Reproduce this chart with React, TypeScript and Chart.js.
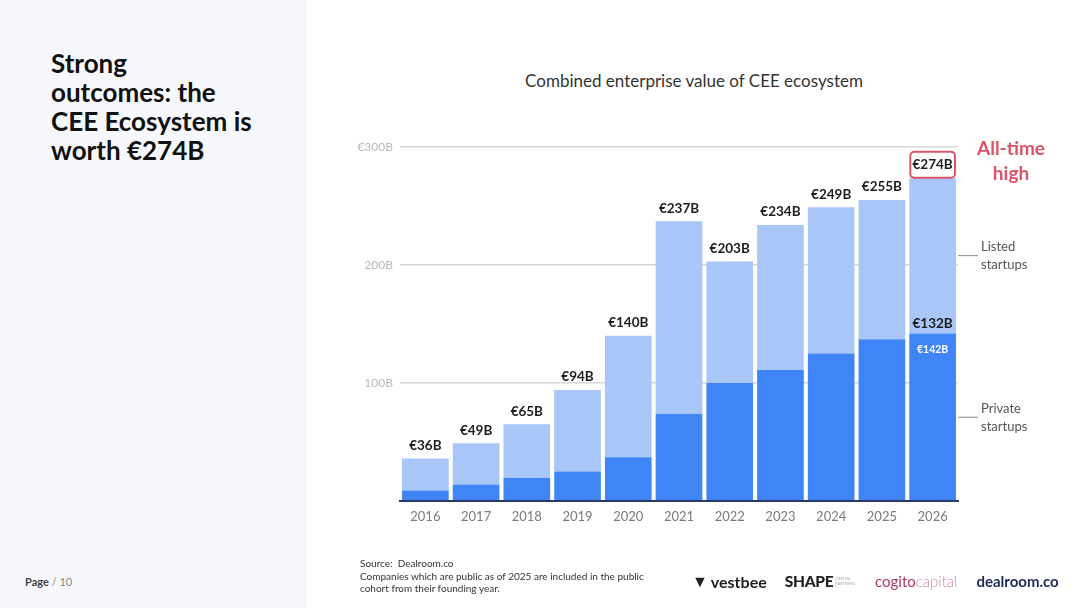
import React, { useEffect, useRef } from "react";
import { Chart, registerables } from "chart.js";

Chart.register(...registerables);

const years = ["2016", "2017", "2018", "2019", "2020", "2021", "2022", "2023", "2024", "2025", "2026"];
const totalValues = [36, 49, 65, 94, 140, 237, 203, 234, 249, 255, 274];
const privateValues = [9, 14, 19.5, 25, 37, 74, 100, 111, 125, 137, 142];
const listedValues = totalValues.map((t, i) => t - privateValues[i]);
const totalLabels = ["€36B", "€49B", "€65B", "€94B", "€140B", "€237B", "€203B", "€234B", "€249B", "€255B", "€274B"];
const privateTopLabel = "€132B";
const privateInnerLabel = "€142B";
const yTicks = [0, 100, 200, 300];
const yTickLabels = ["", "100B", "200B", "€300B"];

const FONT = "Lato, 'Noto Sans', sans-serif";
const DARK = "#3F85F6";
const LIGHT = "#A9C6F8";
const RED = "#DC5468";

export default function App() {
  const ref = useRef<HTMLCanvasElement | null>(null);

  useEffect(() => {
    const canvas = ref.current;
    if (!canvas) return;

    const labelPlugin = {
      id: "labels",
      afterDatasetsDraw(chart: any) {
        const ctx = chart.ctx;
        const metaListed = chart.getDatasetMeta(1);
        const metaPrivate = chart.getDatasetMeta(0);
        const last = years.length - 1;
        ctx.save();
        ctx.textAlign = "center";
        ctx.textBaseline = "middle";
        metaListed.data.forEach((bar: any, i: number) => {
          const top = bar.y;
          if (i === last) {
            const w = bar.width;
            ctx.strokeStyle = RED;
            ctx.lineWidth = 2;
            ctx.beginPath();
            (ctx as any).roundRect(bar.x - w / 2 + 1, top - 26, w - 2, 26, 4);
            ctx.fillStyle = "#ffffff";
            ctx.fill();
            ctx.stroke();
          }
          ctx.fillStyle = "#1d1d1f";
          ctx.font = `bold 13.5px ${FONT}`;
          ctx.fillText(totalLabels[i], bar.x, top - 13);
        });
        const pb = metaPrivate.data[last];
        ctx.fillStyle = "#1d1d1f";
        ctx.font = `bold 13.5px ${FONT}`;
        ctx.fillText(privateTopLabel, pb.x, pb.y - 10);
        ctx.fillStyle = "#ffffff";
        ctx.font = `bold 10.5px ${FONT}`;
        ctx.fillText(privateInnerLabel, pb.x, pb.y + 16);

        const ys = chart.scales.y;
        const right = chart.chartArea.right;
        const listedMid = ys.getPixelForValue((privateValues[last] + totalValues[last]) / 2);
        const privateMid = ys.getPixelForValue(privateValues[last] / 2);
        ctx.strokeStyle = "#9a9a9a";
        ctx.lineWidth = 1.2;
        [listedMid, privateMid].forEach((y) => {
          ctx.beginPath();
          ctx.moveTo(right, y);
          ctx.lineTo(right + 20, y);
          ctx.stroke();
        });
        ctx.fillStyle = "#555555";
        ctx.font = `13px ${FONT}`;
        ctx.textAlign = "left";
        ctx.fillText("Listed", right + 23, listedMid - 9);
        ctx.fillText("startups", right + 23, listedMid + 9);
        ctx.fillText("Private", right + 23, privateMid - 8);
        ctx.fillText("startups", right + 23, privateMid + 10);

        ctx.fillStyle = RED;
        ctx.font = `bold 19px ${FONT}`;
        ctx.textAlign = "center";
        ctx.fillText("All-time", right + 53, ys.getPixelForValue(300) + 2);
        ctx.fillText("high", right + 53, ys.getPixelForValue(300) + 27);
        ctx.restore();
      },
    };

    const chart = new Chart(canvas, {
      type: "bar",
      data: {
        labels: years,
        datasets: [
          {
            label: "Private startups",
            data: privateValues,
            backgroundColor: DARK,
            barPercentage: 0.92,
            categoryPercentage: 1,
          },
          {
            label: "Listed startups",
            data: listedValues,
            backgroundColor: LIGHT,
            barPercentage: 0.92,
            categoryPercentage: 1,
          },
        ],
      },
      options: {
        animation: false,
        responsive: false,
        maintainAspectRatio: false,
        layout: { padding: { top: 147, right: 122, bottom: 77, left: 0 } },
        plugins: {
          legend: { display: false },
          tooltip: { enabled: false },
          title: { display: false },
        },
        scales: {
          x: {
            stacked: true,
            afterFit: (s: any) => {
              s.height = 30;
            },
            grid: { display: false, drawTicks: false },
            border: { display: true, color: "#2c3a66", width: 2, z: 1 },
            ticks: { color: "#7a7a7a", font: { family: FONT, size: 13 }, padding: 8 },
          },
          y: {
            stacked: true,
            min: 0,
            max: 300,
            afterFit: (s: any) => {
              s.width = 92;
            },
            afterBuildTicks: (s: any) => {
              s.ticks = yTicks.map((v) => ({ value: v }));
            },
            border: { display: false },
            grid: {
              color: (c: any) => (c.tick && c.tick.value === 0 ? "rgba(0,0,0,0)" : "#d6d6d6"),
              lineWidth: 1.5,
              drawTicks: false,
            },
            ticks: {
              color: "#b8b8b8",
              font: { family: FONT, size: 12 },
              padding: 7,
              callback: (v: any) => yTickLabels[yTicks.indexOf(Number(v))] ?? "",
            },
          },
        },
      },
      plugins: [labelPlugin],
    });
    return () => chart.destroy();
  }, []);

  return (
    <div
      style={{
        position: "fixed",
        left: 0,
        top: 0,
        width: 1080,
        height: 608,
        background: "#ffffff",
        fontFamily: FONT,
        overflow: "hidden",
      }}
    >
      <div style={{ position: "absolute", left: 0, top: 0, width: 307, height: 608, background: "#F7F8FC" }} />
      <div
        style={{
          position: "absolute",
          left: 51,
          top: 49,
          width: 250,
          fontSize: 26,
          lineHeight: "29px",
          fontWeight: 700,
          color: "#111111",
          whiteSpace: "nowrap",
        }}
      >
        Strong
        <br />
        outcomes: the
        <br />
        CEE Ecosystem is
        <br />
        worth €274B
      </div>
      <div style={{ position: "absolute", left: 25, top: 575, fontSize: 11, color: "#444" }}>
        <span style={{ fontWeight: 700 }}>Page</span>
        <span style={{ color: "#888" }}> / 10</span>
      </div>
      <div
        style={{
          position: "absolute",
          left: 308,
          width: 772,
          top: 70,
          textAlign: "center",
          fontSize: 17,
          color: "#333",
        }}
      >
        <span style={{ position: "relative", left: 0 }}>Combined enterprise value of CEE ecosystem</span>
      </div>
      <canvas
        ref={ref}
        width={772}
        height={608}
        style={{ position: "absolute", left: 308, top: 0, width: 772, height: 608 }}
      />
      <div style={{ position: "absolute", left: 360, top: 557, fontSize: 10, lineHeight: "12.5px", color: "#333" }}>
        Source:&nbsp; Dealroom.co
        <br />
        Companies which are public as of 2025 are included in the public
        <br />
        cohort from their founding year.
      </div>
      <div
        style={{
          position: "absolute",
          left: 692,
          top: 571,
          fontWeight: 700,
          color: "#222",
          whiteSpace: "nowrap",
          display: "flex",
          alignItems: "center",
        }}
      >
        <span style={{ fontWeight: 900, fontSize: 16 }}>▼</span>
        <span style={{ marginLeft: 3, fontSize: 16 }}>vestbee</span>
        <span style={{ marginLeft: 18, fontWeight: 900, fontSize: 15.5, letterSpacing: -0.3 }}>SHAPE</span>
        <span style={{ marginLeft: 2, fontSize: 4, fontWeight: 400, color: "#aaa", lineHeight: "5px" }}>
          CAPITAL
          <br />
          PARTNERS
        </span>
        <span style={{ marginLeft: 20, fontWeight: 400, color: "#B03A5B", fontSize: 15 }}>cogito</span>
        <span style={{ fontWeight: 300, color: "#D08A9E", fontSize: 15 }}>capital</span>
        <span style={{ marginLeft: 19, fontWeight: 700, color: "#1E2A5A", fontSize: 15 }}>dealroom.co</span>
      </div>
    </div>
  );
}
